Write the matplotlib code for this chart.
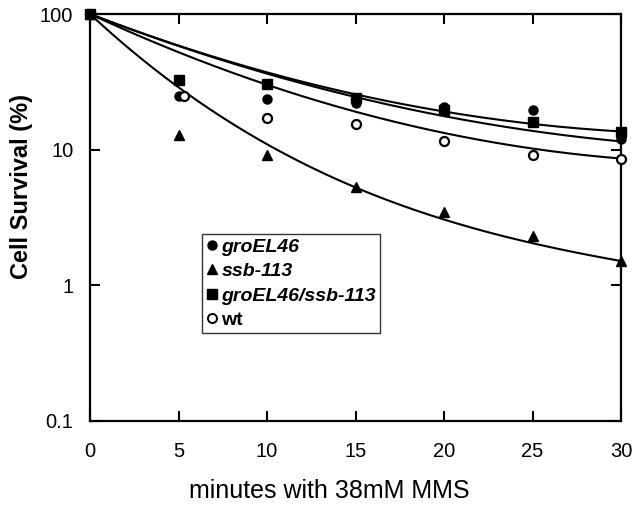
import numpy as np
import matplotlib
matplotlib.use("Agg")
import matplotlib.pyplot as plt
from matplotlib.lines import Line2D

plt.rcParams['font.family'] = ['Liberation Sans', 'DejaVu Sans']

# ---- data ----
time = [0, 5, 10, 15, 20, 25, 30]
groel46 = [100, 25.0, 23.7, 22.2, 20.7, 19.7, 11.9]
ssb113 = [100, 12.9, 9.2, 5.35, 3.5, 2.3, 1.51]
groel_ssb = [100, 32.7, 30.6, 24.1, 19.7, 15.9, 13.6]
wt_time = [0, 5.3, 10, 15, 20, 25, 30]
wt = [100, 25.0, 17.2, 15.5, 11.6, 9.2, 8.6]

# fitted survival curves: log10(S/100) = a*t + b*t^2 + c*t^3 (coefficients)
fit_groel46 = [-0.0503, 0.000633, 0.0]
fit_ssb113 = [-0.12145, 0.002805, -0.000026]
fit_groel_ssb = [-0.0501, 0.000708, 0.0]
fit_wt = [-0.0605, 0.000833, 0.0]

x_ticks = [0, 5, 10, 15, 20, 25, 30]
y_ticks = [0.1, 1, 10, 100]
y_tick_labels = ['0.1', '1', '10', '100']
legend_labels = ['groEL46', 'ssb-113', 'groEL46/ssb-113', 'wt']

fig = plt.figure(figsize=(6.34, 5.07), dpi=100)
ax = fig.add_axes([90/634, 1-421/507, 531/634, 407/507])

tt = np.linspace(0, 30, 300)
def curve(p):
    return 100 * 10 ** (p[0]*tt + p[1]*tt**2 + p[2]*tt**3)

for p in (fit_groel46, fit_ssb113, fit_groel_ssb, fit_wt):
    ax.plot(tt, curve(p), color='black', lw=1.5, zorder=2)

ms = 6.5
ax.plot(time, groel46, 'o', color='black', ms=ms, clip_on=False, zorder=3)
ax.plot(time, ssb113, '^', color='black', ms=ms, clip_on=False, zorder=3)
ax.plot(wt_time, wt, 'o', mfc='white', mec='black', mew=1.6, ms=ms, clip_on=False, zorder=3)
ax.plot(time, groel_ssb, 's', color='black', ms=ms, clip_on=False, zorder=4)

ax.set_yscale('log')
ax.set_xlim(0, 30)
ax.set_ylim(0.1, 100)
ax.set_xticks(x_ticks)
ax.set_xticklabels([str(v) for v in x_ticks])
ax.set_yticks(y_ticks)
ax.set_yticklabels(y_tick_labels)
ax.yaxis.set_minor_locator(matplotlib.ticker.NullLocator())
ax.tick_params(direction='in', length=7, width=1.5, top=True, right=True,
               labelsize=14.5, colors='black')
ax.tick_params(axis='x', pad=15)
ax.tick_params(axis='y', pad=12)
for s in ax.spines.values():
    s.set_linewidth(1.6)

ax.set_xlabel('minutes with 38mM MMS', fontsize=18)
ax.xaxis.set_label_coords(0.45, -0.143)
ax.set_ylabel('Cell Survival (%)', fontsize=17, fontweight='bold')
ax.yaxis.set_label_coords(-0.107, 0.575)

handles = [
    Line2D([], [], marker='o', ls='none', color='black', ms=6.5),
    Line2D([], [], marker='^', ls='none', color='black', ms=6.5),
    Line2D([], [], marker='s', ls='none', color='black', ms=6.5),
    Line2D([], [], marker='o', ls='none', mfc='white', mec='black', mew=1.4, ms=6.5),
]
leg = ax.legend(handles, legend_labels, loc='upper left', bbox_to_anchor=(0.211, 0.459),
                borderaxespad=0, frameon=True, fancybox=False, handlelength=0.6,
                handletextpad=0.2, borderpad=0.2, labelspacing=0.35,
                prop={'size': 14, 'weight': 'bold', 'style': 'italic'})
leg.get_frame().set_edgecolor('black')
leg.get_frame().set_linewidth(1.0)
leg.get_texts()[3].set_fontstyle('normal')

fig.savefig('out.png', dpi=100)
